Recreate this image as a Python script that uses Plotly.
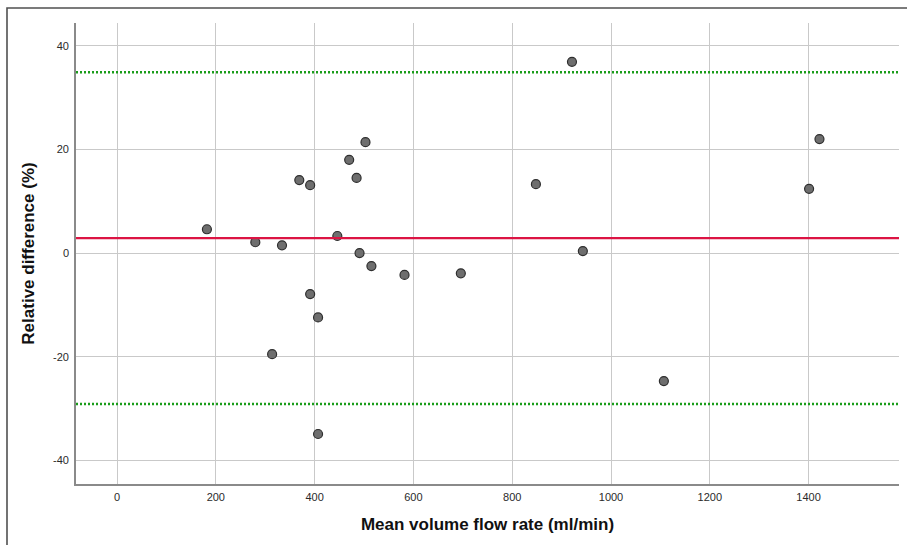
import plotly.graph_objects as go

# Bland-Altman style data: mean volume flow rate vs relative difference
mean_flow = [182, 280, 334, 314, 369, 391, 391, 407, 407, 446, 470, 485,
             491, 503, 515, 582, 696, 848, 921, 943, 1107, 1401, 1422]
rel_diff = [4.6, 2.1, 1.5, -19.5, 14.1, 13.1, -7.9, -12.4, -34.9, 3.3, 18.0, 14.5,
            0.0, 21.4, -2.5, -4.2, -3.9, 13.3, 36.9, 0.4, -24.7, 12.4, 22.0]

mean_bias = 2.9
loa_upper = 34.9
loa_lower = -29.1

x_ticks = [0, 200, 400, 600, 800, 1000, 1200, 1400]
x_labels = ["0", "200", "400", "600", "800", "1000", "1200", "1400"]
y_ticks = [-40, -20, 0, 20, 40]
y_labels = ["-40", "-20", "0", "20", "40"]

W, H = 907, 545
ML, MR, MT, MB = 76, 8, 23, 61
pw, ph = W - ML - MR, H - MT - MB


def px_to_paper_x(px):
    return (px - ML) / pw


def px_to_paper_y(py):
    return (H - MB - py) / ph


fig = go.Figure()

fig.add_trace(go.Scatter(
    x=mean_flow, y=rel_diff, mode="markers",
    marker=dict(size=9, color="#6e6e6e", line=dict(color="#2e2e2e", width=1.2)),
    showlegend=False, hoverinfo="x+y",
))

shapes = []
for val, col, dash in [(loa_upper, "#1a9c1a", "2px,2px"),
                       (loa_lower, "#1a9c1a", "2px,2px"),
                       (mean_bias, "#dc1443", "solid")]:
    shapes.append(dict(type="line", xref="paper", yref="y", x0=0, x1=1,
                       y0=val, y1=val, layer="above",
                       line=dict(color=col, width=2.6 if dash != "solid" else 2.4, dash=dash)))

# outer frame (left and top edges)
xl = px_to_paper_x(7)
xr = px_to_paper_x(W + 2)
yt = px_to_paper_y(8)
yb = px_to_paper_y(H + 2)
shapes.append(dict(type="path", xref="paper", yref="paper",
                   path=f"M {xl},{yb} L {xl},{yt} L {xr},{yt}",
                   line=dict(color="#505050", width=1.6)))

fig.update_layout(
    width=W, height=H,
    margin=dict(l=ML, r=MR, t=MT, b=MB),
    paper_bgcolor="white", plot_bgcolor="white",
    font=dict(family="Liberation Sans, Arial, sans-serif", color="#222"),
    shapes=shapes,
    xaxis=dict(
        range=[-83, 1583], tickvals=x_ticks, ticktext=x_labels,
        showgrid=True, gridcolor="#c9c9c9", gridwidth=1.4,
        zeroline=False, showline=True, linecolor="#8a8a8a", linewidth=1.6,
        ticks="", tickfont=dict(size=11, color="#2a2a2a"), ticklabelstandoff=2,
        title=dict(text="<b>Mean volume flow rate (ml/min)</b>",
                   font=dict(size=17, color="#111"), standoff=16),
    ),
    yaxis=dict(
        range=[-44.55, 44.4], tickvals=y_ticks, ticktext=y_labels,
        showgrid=True, gridcolor="#c9c9c9", gridwidth=1.4,
        zeroline=False, showline=True, linecolor="#8a8a8a", linewidth=1.6,
        ticks="", tickfont=dict(size=11, color="#2a2a2a"), ticklabelstandoff=3,
        title=dict(text="<b>Relative difference (%)</b>",
                   font=dict(size=17, color="#111"), standoff=14),
    ),
)

fig.write_html("out.html")
